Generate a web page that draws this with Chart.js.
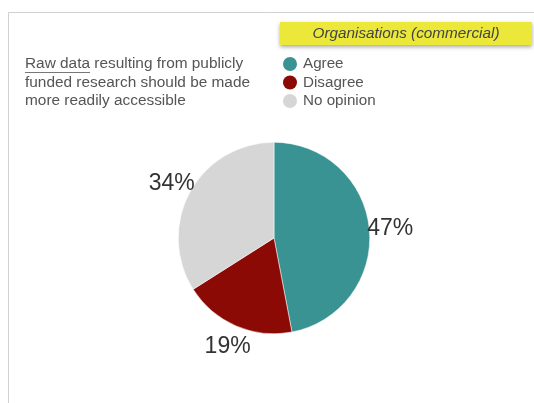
<!DOCTYPE html>
<html>
<head>
  <title>Raw data accessibility - commercial organisations</title>
  <script src="https://cdn.jsdelivr.net/npm/chart.js"></script>
  <style>
    html, body { margin: 0; padding: 0; background: #fff; }
    #wrap { width: 534px; height: 403px; }
  </style>
</head>
<body>
<div id="wrap">
  <canvas id="opinionChart" width="534" height="403"></canvas>
</div>

<script>
  // Survey answers for one respondent group
  const answers = ['Agree', 'Disagree', 'No opinion'];
  const shares = [47, 19, 34];
  const sliceColors = ['#3a9393', '#8c0a05', '#d6d6d6'];

  const groupName = 'Organisations (commercial)';
  const statement = [
    'resulting from publicly',
    'funded research should be made',
    'more readily accessible'
  ];
  const statementLead = 'Raw data';

  const FONT = '"Liberation Sans", Arial, sans-serif';

  // Slide frame, statement text, group banner and the legend
  const slideDecor = {
    id: 'slideDecor',
    beforeDraw(chart) {
      const ctx = chart.ctx;
      ctx.save();
      ctx.fillStyle = '#fff';
      ctx.fillRect(0, 0, chart.width, chart.height);

      // thin frame on top and left
      ctx.strokeStyle = '#d0d0d0';
      ctx.lineWidth = 1;
      ctx.beginPath();
      ctx.moveTo(8.5, chart.height);
      ctx.lineTo(8.5, 12.5);
      ctx.lineTo(chart.width, 12.5);
      ctx.stroke();

      // yellow banner with a soft shadow
      ctx.save();
      ctx.shadowColor = 'rgba(0,0,0,0.35)';
      ctx.shadowBlur = 4;
      ctx.shadowOffsetY = 2;
      ctx.fillStyle = '#ebe83a';
      ctx.fillRect(280, 22, 252, 23);
      ctx.restore();
      ctx.fillStyle = '#444';
      ctx.font = 'italic 15.3px ' + FONT;
      ctx.textAlign = 'center';
      ctx.textBaseline = 'middle';
      ctx.fillText(groupName, 406, 34);

      // statement, first words underlined
      ctx.textAlign = 'left';
      ctx.fillStyle = '#555';
      ctx.font = '15.4px ' + FONT;
      const x0 = 25;
      const lead = statementLead + ' ';
      const leadW = ctx.measureText(statementLead).width;
      ctx.fillText(lead, x0, 64);
      ctx.fillText(statement[0], x0 + ctx.measureText(lead).width, 64);
      ctx.strokeStyle = '#777';
      ctx.beginPath();
      ctx.moveTo(x0, 72.5);
      ctx.lineTo(x0 + leadW, 72.5);
      ctx.stroke();
      ctx.fillText(statement[1], x0, 82.5);
      ctx.fillText(statement[2], x0, 101);

      // legend
      ctx.font = '15.2px ' + FONT;
      const data = chart.data;
      data.labels.forEach((lbl, i) => {
        const y = 64 + i * 18.5;
        ctx.fillStyle = data.datasets[0].backgroundColor[i];
        ctx.beginPath();
        ctx.arc(290, y, 7, 0, Math.PI * 2);
        ctx.fill();
        ctx.fillStyle = '#555';
        ctx.fillText(lbl, 303, y);
      });
      ctx.restore();
    }
  };

  // Percentage labels just outside each slice
  const outsideLabels = {
    id: 'outsideLabels',
    afterDatasetsDraw(chart) {
      const ctx = chart.ctx;
      const meta = chart.getDatasetMeta(0);
      const values = chart.data.datasets[0].data;
      ctx.save();
      ctx.fillStyle = '#333';
      ctx.font = '23px ' + FONT;
      ctx.textAlign = 'center';
      ctx.textBaseline = 'middle';
      meta.data.forEach((arc, i) => {
        const p = arc.getProps(['x', 'y', 'startAngle', 'endAngle', 'outerRadius'], true);
        const mid = (p.startAngle + p.endAngle) / 2;
        const r = p.outerRadius + 21;
        ctx.fillText(values[i] + '%', p.x + Math.cos(mid) * r, p.y + Math.sin(mid) * r + 2);
      });
      ctx.restore();
    }
  };

  new Chart(document.getElementById('opinionChart'), {
    type: 'pie',
    data: {
      labels: answers,
      datasets: [{
        data: shares,
        backgroundColor: sliceColors,
        borderColor: '#ffffff',
        borderWidth: 0.5
      }]
    },
    options: {
      responsive: false,
      animation: false,
      layout: {
        padding: { left: 178, right: 164, top: 142, bottom: 69 }
      },
      plugins: {
        legend: { display: false },
        tooltip: { enabled: false }
      }
    },
    plugins: [slideDecor, outsideLabels]
  });
</script>
</body>
</html>
